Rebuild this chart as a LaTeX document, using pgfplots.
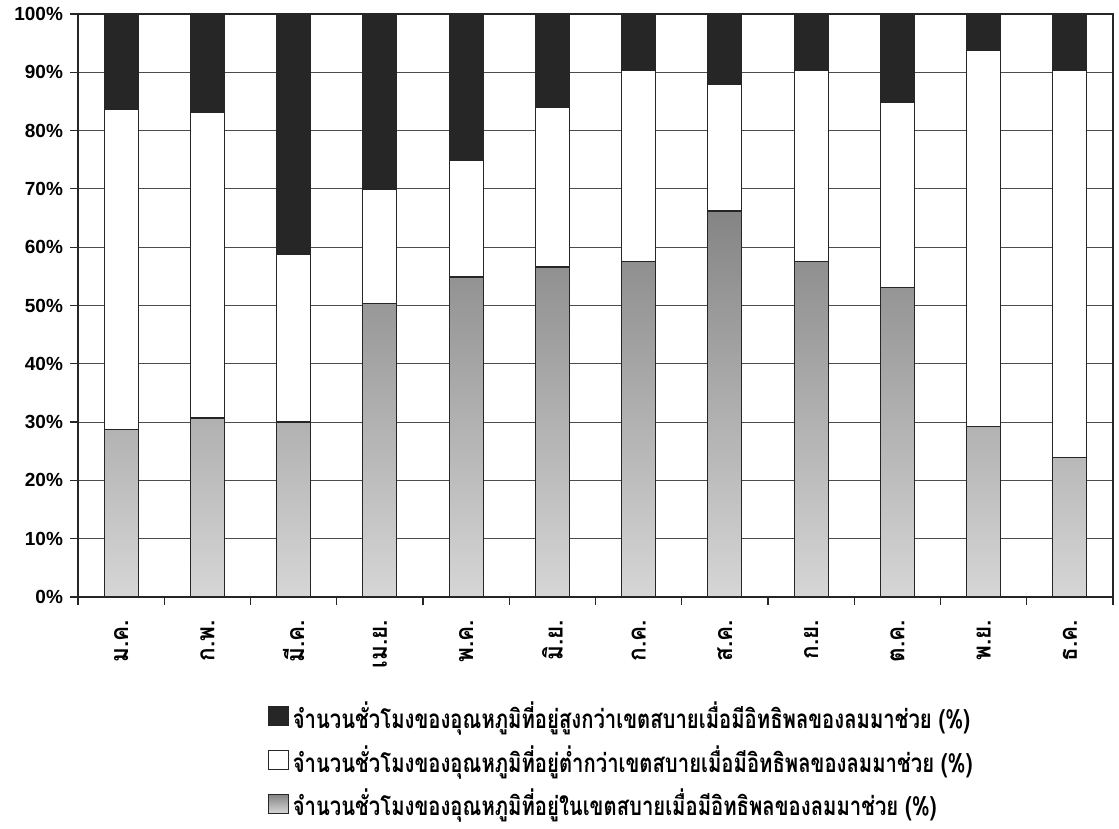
\documentclass[border=0pt]{standalone}
\usepackage{fontspec}
\setmainfont{Liberation Sans}
\newfontfamily\thaifont[Script=Thai, FakeStretch=0.78]{Loma}
\newfontfamily\thaimonth[Script=Thai, FakeStretch=0.9]{Loma}
\usepackage{pgfplots}
\pgfplotsset{compat=1.18}

\begin{document}
\begin{tikzpicture}
\useasboundingbox (0,0) rectangle (559.5pt,414.5pt);
\begin{axis}[
  at={(39pt,116pt)}, anchor=south west,
  width=517.5pt, height=291.5pt, scale only axis,
  ybar stacked, bar width=17pt,
  xmin=-0.5, xmax=11.5, ymin=0, ymax=100,
  xtick={-0.5,0.5,...,11.5}, xticklabels={},
  extra x ticks={0,1,2,3,4,5,6,7,8,9,10,11},
  extra x tick labels={ม.ค.,ก.พ.,มี.ค.,เม.ย.,พ.ค.,มิ.ย.,ก.ค.,ส.ค.,ก.ย.,ต.ค.,พ.ย.,ธ.ค.},
  extra x tick style={major tick length=0pt, grid=none,
    tick label style={rotate=90, anchor=east, xshift=-8pt, font=\thaimonth\bfseries\fontsize{12.5}{13}\selectfont}},
  ytick={0,10,...,100},
  yticklabel={\pgfmathprintnumber{\tick}\%},
  /pgf/number format/assume math mode=true,
  yticklabel style={font=\bfseries\fontsize{9.5}{10}\selectfont},
  tick align=outside, xtick pos=bottom, ytick pos=left,
  major tick length=4pt,
  tick style={black!85, line width=0.6pt},
  ymajorgrids, major grid style={black!70, line width=0.5pt},
  axis line style={black!85, line width=1.2pt},
  legend style={at={(0.177,-0.165)}, anchor=north west, draw=none, fill=none,
    font=\thaifont\bfseries\fontsize{13}{14}\selectfont, row sep=3pt},
  legend cell align=left,
  reverse legend,
  legend image code/.code={\draw[#1] (0pt,-4.7pt) rectangle (10pt,4.7pt);},
]
\addplot[draw=black!85, line width=0.6pt, top color=black!48, bottom color=black!16]
  coordinates {(0,28.7) (1,30.7) (2,30.0) (3,50.3) (4,54.9) (5,56.6) (6,57.5) (7,66.2) (8,57.5) (9,53.1) (10,29.2) (11,23.9)};
\addlegendentry{จำนวนชั่วโมงของอุณหภูมิที่อยู่ในเขตสบายเมื่อมีอิทธิพลของลมมาช่วย (\%)}
\addplot[draw=black!85, line width=0.6pt, fill=white]
  coordinates {(0,54.9) (1,52.4) (2,28.7) (3,19.6) (4,20.0) (5,27.4) (6,32.8) (7,21.8) (8,32.9) (9,31.8) (10,64.5) (11,66.4)};
\addlegendentry{จำนวนชั่วโมงของอุณหภูมิที่อยู่ต่ำกว่าเขตสบายเมื่อมีอิทธิพลของลมมาช่วย (\%)}
\addplot[draw=black!85, line width=0.6pt, fill=black!85]
  coordinates {(0,16.4) (1,16.9) (2,41.3) (3,30.1) (4,25.1) (5,16.0) (6,9.7) (7,12.0) (8,9.6) (9,15.1) (10,6.3) (11,9.7)};
\addlegendentry{จำนวนชั่วโมงของอุณหภูมิที่อยู่สูงกว่าเขตสบายเมื่อมีอิทธิพลของลมมาช่วย (\%)}
\end{axis}
\end{tikzpicture}
\end{document}
